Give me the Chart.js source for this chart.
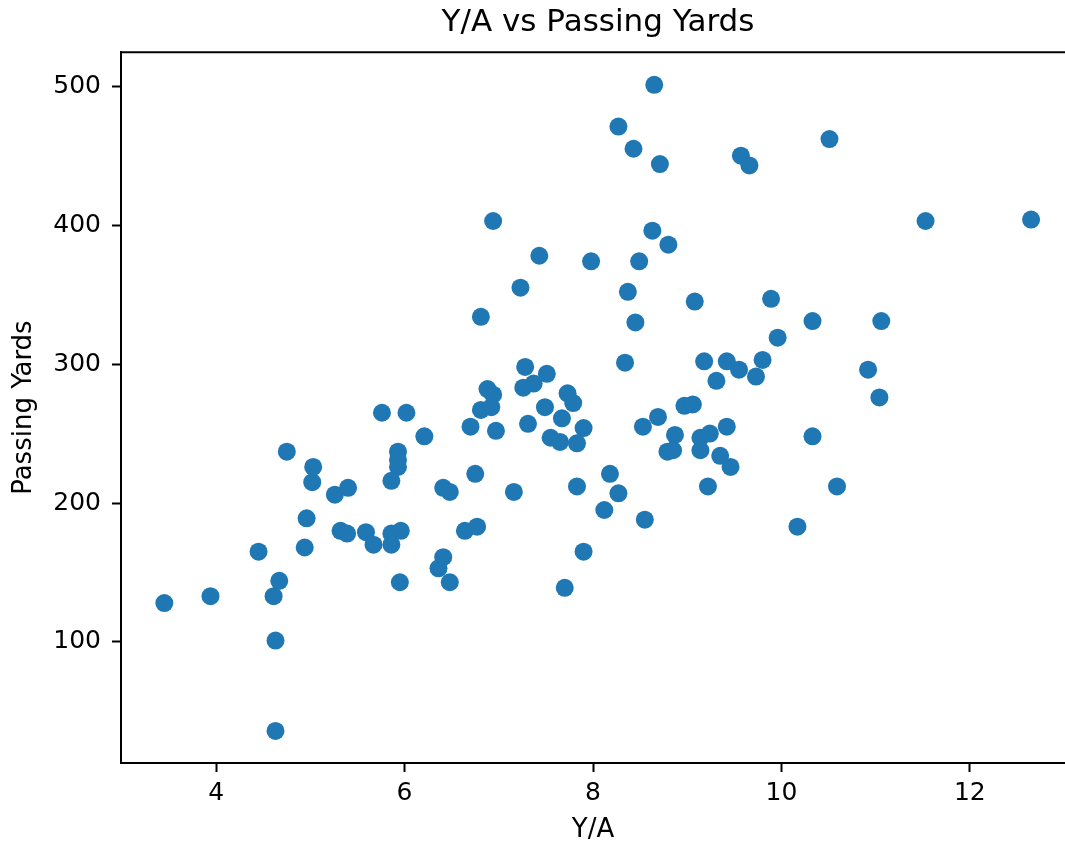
<!DOCTYPE html>
<html>
<head>
<meta charset="utf-8">
<title>Y/A vs Passing Yards</title>
<script src="https://cdn.jsdelivr.net/npm/chart.js@4.4.1/dist/chart.umd.min.js"></script>
<style>
  html, body { margin: 0; padding: 0; background: #fff; overflow: hidden; }
  #wrap { width: 1065px; height: 847px; }
</style>
</head>
<body>
<div id="wrap"><canvas id="chart" width="1065" height="847"></canvas></div>
<script>
// Y/A (yards per attempt) for each game
const yardsPerAttempt = [
  3.45, 3.94, 4.45, 4.63, 4.63, 4.61, 4.67, 4.75, 5.03, 5.02,
  4.96, 4.94, 5.26, 5.40, 5.32, 5.39, 5.59, 5.67, 5.76, 6.02,
  5.86, 5.96, 5.86, 5.95, 5.93, 5.93, 5.93, 5.86, 6.21, 6.41,
  6.48, 6.41, 6.36, 6.48, 6.64, 6.77, 6.75, 6.70, 6.81, 6.92,
  6.88, 6.94, 6.97, 6.94, 6.81, 7.23, 7.43, 7.28, 7.51, 7.26,
  7.37, 7.73, 7.79, 7.49, 7.67, 7.31, 7.90, 7.55, 7.65, 7.83,
  7.16, 7.83, 7.90, 7.70, 7.98, 8.12, 8.18, 8.27, 8.55, 8.65,
  8.27, 8.43, 8.71, 8.63, 8.80, 8.49, 8.37, 8.45, 8.34, 8.53,
  8.69, 8.87, 8.79, 8.85, 8.97, 9.06, 9.08, 9.14, 9.24, 9.14,
  9.18, 9.31, 9.42, 9.55, 9.80, 9.73, 9.42, 9.35, 9.46, 9.22,
  9.57, 9.66, 9.89, 9.96, 10.33, 10.33, 10.17, 10.59, 10.51, 10.92,
  11.06, 11.04, 11.53, 12.65
];

// Passing yards for the same games
const passingYards = [
  128, 133, 165, 101, 36, 133, 144, 237, 226, 215,
  189, 168, 206, 211, 180, 178, 179, 170, 265, 265,
  178, 180, 170, 143, 237, 231, 226, 216, 248, 211,
  208, 161, 153, 143, 180, 183, 221, 255, 267, 269,
  282, 278, 252, 403, 334, 355, 378, 298, 293, 283,
  286, 279, 272, 269, 261, 257, 254, 247, 244, 243,
  208, 212, 165, 139, 374, 195, 221, 207, 188, 501,
  471, 455, 444, 396, 386, 374, 352, 330, 301, 255,
  262, 249, 237, 238, 270, 271, 345, 247, 250, 238,
  302, 288, 302, 296, 303, 291, 255, 234, 226, 212,
  450, 443, 347, 319, 331, 248, 183, 212, 462, 296,
  331, 276, 403, 404
];

const xTicks = [4, 6, 8, 10, 12];
const yTicks = [100, 200, 300, 400, 500];

const points = yardsPerAttempt.map((x, i) => ({ x: x, y: passingYards[i] }));

const FONT = "'DejaVu Sans', sans-serif";

// top spine like matplotlib; the right one is cut off in the original picture
const frameBox = {
  id: 'frameBox',
  afterLayout(chart) {
    // original axes run ~10px past the picture edge, so centre the title on that
    if (chart.titleBlock) chart.titleBlock.right += 10;
  },
  afterDraw(chart) {
    const { ctx, chartArea: a } = chart;
    ctx.save();
    ctx.strokeStyle = '#000';
    ctx.lineWidth = 2;
    ctx.beginPath();
    ctx.moveTo(a.left, a.top);
    ctx.lineTo(a.right, a.top);
    ctx.stroke();
    ctx.restore();
  }
};

new Chart(document.getElementById('chart'), {
  type: 'scatter',
  data: {
    datasets: [{
      data: points,
      backgroundColor: '#1f77b4',
      borderWidth: 0,
      pointRadius: 9,
      pointHoverRadius: 9
    }]
  },
  options: {
    responsive: false,
    maintainAspectRatio: false,
    animation: false,
    // no room kept for point overflow, the axes run to the picture edge
    layout: { padding: 0, autoPadding: false },
    plugins: {
      legend: { display: false },
      tooltip: { enabled: false },
      title: {
        display: true,
        text: 'Y/A vs Passing Yards',
        fullSize: false,
        color: '#000',
        font: { family: FONT, size: 31, weight: 'normal' },
        padding: { top: 4, bottom: 11 }
      }
    },
    scales: {
      x: {
        type: 'linear',
        min: 2.99,
        max: 13.01,
        afterBuildTicks: axis => { axis.ticks = xTicks.map(v => ({ value: v })); },
        afterFit: axis => {
          axis.height = 84;
          axis.paddingLeft = 0;
          axis.paddingRight = 0;
        },
        border: { display: true, color: '#000', width: 2 },
        grid: { drawOnChartArea: false, drawTicks: true, tickLength: 9, tickColor: '#000', tickWidth: 2 },
        ticks: { color: '#000', padding: 6, font: { family: FONT, size: 25 } },
        title: {
          display: true,
          text: 'Y/A',
          color: '#000',
          font: { family: FONT, size: 26 },
          padding: { top: 0, bottom: 1 }
        }
      },
      y: {
        type: 'linear',
        min: 12.9,
        max: 524.5,
        afterBuildTicks: axis => { axis.ticks = yTicks.map(v => ({ value: v })); },
        afterFit: axis => {
          axis.width = 121;
          axis.paddingTop = 0;
          axis.paddingBottom = 0;
        },
        border: { display: true, color: '#000', width: 2 },
        grid: { drawOnChartArea: false, drawTicks: true, tickLength: 9, tickColor: '#000', tickWidth: 2 },
        ticks: { color: '#000', padding: 11, font: { family: FONT, size: 25 } },
        title: {
          display: true,
          text: 'Passing Yards',
          color: '#000',
          font: { family: FONT, size: 26 },
          padding: { top: 9, bottom: 0 }
        }
      }
    }
  },
  plugins: [frameBox]
});
</script>
</body>
</html>
